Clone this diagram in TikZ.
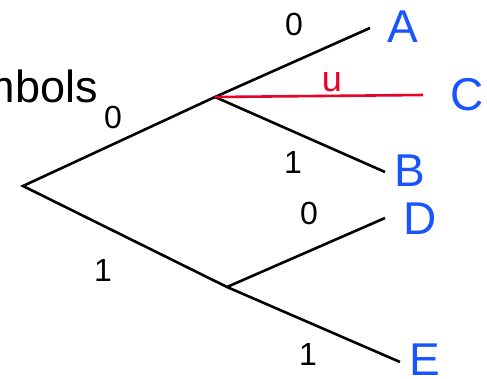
\documentclass[tikz,border=0pt]{standalone}
\usepackage{fontspec}
\setmainfont{Liberation Sans}
\definecolor{leafblue}{RGB}{25,85,255}
\definecolor{edgered}{RGB}{235,0,40}
\begin{document}
\begin{tikzpicture}[x=1pt,y=1pt,
  edge/.style={line width=2.6pt,black},
  redge/.style={line width=2.6pt,edgered},
  leaf/.style={text=leafblue,font=\fontsize{46}{46}\selectfont,inner sep=0pt},
  bit/.style={font=\fontsize{32}{32}\selectfont,inner sep=0pt},
  word/.style={font=\fontsize{45}{45}\selectfont,inner sep=0pt}]
\useasboundingbox (0,0) rectangle (487,378);
% branch points and ends
\coordinate (root) at (23,192);
\coordinate (n1) at (215,281);
\coordinate (n2) at (227,91);
\coordinate (ea) at (370,350);
\coordinate (ec) at (423,283);
\coordinate (eb) at (385,206);
\coordinate (ed) at (385,160);
\coordinate (ee) at (400,16);
% edges
\draw[edge,line join=miter] (n1) -- (root) -- (n2);
\draw[edge] (n1) -- (ea);
\draw[edge] (n1) -- (eb);
\draw[redge] (n1) -- (ec);
\draw[edge] (n2) -- (ed);
\draw[edge] (n2) -- (ee);
% leaf labels
\node[leaf] (A) at (403,351) {A};
\node[leaf] (C) at (467,283) {C};
\node[leaf] (B) at (410,207) {B};
\node[leaf] (D) at (420,159) {D};
\node[leaf] (E) at (425,18) {E};
% bit labels
\node[bit] (l0a) at (294,354) {0};
\node[bit,text=edgered,font=\fontsize{36}{36}\selectfont] (lu) at (332,296) {u};
\node[bit] (l1b) at (293,216) {1};
\node[bit] (l0r) at (113,261) {0};
\node[bit] (l1r) at (103,108) {1};
\node[bit] (l0d) at (309,165) {0};
\node[bit] (l1e) at (308,24) {1};
% cropped word
\node[word,anchor=base east] (sym) at (98,275) {symbols};
\end{tikzpicture}
\end{document}
